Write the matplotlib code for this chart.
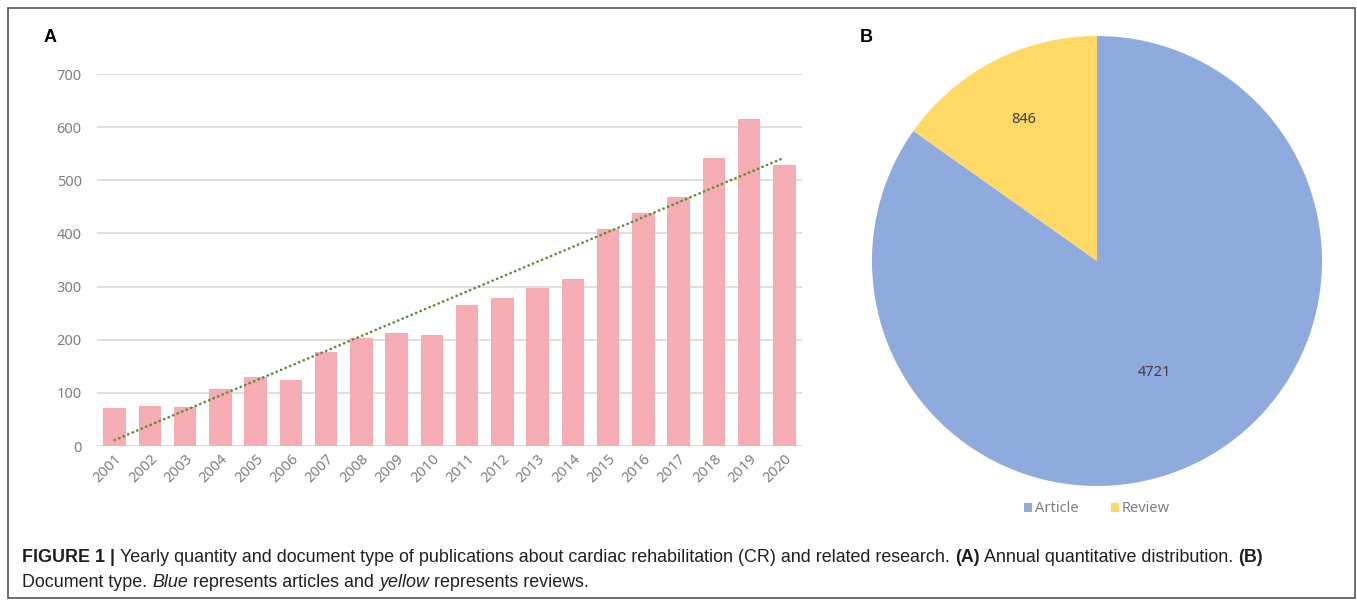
import numpy as np
import matplotlib
matplotlib.use("Agg")
import matplotlib.pyplot as plt
from matplotlib.patches import Rectangle, Patch

# ---------------- data ----------------
years = [str(y) for y in range(2001, 2021)]
counts = [72, 75, 73, 107, 130, 125, 176, 203, 213, 208,
          266, 279, 298, 314, 409, 438, 468, 541, 615, 528]
yticks = [0, 100, 200, 300, 400, 500, 600, 700]

doc_types = ["Article", "Review"]
doc_counts = [4721, 846]

caption_line1 = [("FIGURE 1 |", "bold", "normal"),
                 ("Yearly quantity and document type of publications about cardiac rehabilitation (CR) and related research.", "normal", "normal"),
                 ("(A)", "bold", "normal"),
                 ("Annual quantitative distribution.", "normal", "normal"),
                 ("(B)", "bold", "normal")]
caption_line2 = [("Document type.", "normal", "normal"),
                 ("Blue", "normal", "italic"),
                 ("represents articles and", "normal", "normal"),
                 ("yellow", "normal", "italic"),
                 ("represents reviews.", "normal", "normal")]

W, H = 1357, 600
fig = plt.figure(figsize=(W / 100, H / 100), dpi=100)
fig.patch.set_facecolor("white")

TICK_COL = "#7F7F7F"
tick_font = "Noto Sans"

# ---------------- panel A ----------------
axA = fig.add_axes([97 / W, (H - 446) / H, 705 / W, (446 - 74) / H])
x = np.arange(len(years))
axA.bar(x, counts, width=0.64, color="#F5ACB3", zorder=2)
coef = np.polyfit(x, counts, 1)
axA.plot(x, np.polyval(coef, x), linestyle=(0, (0.1, 1.75)), color="#5B8E3B",
         linewidth=1.9, dash_capstyle="round", zorder=3)
axA.set_xlim(-0.5, len(years) - 0.5)
axA.set_ylim(0, 700)
axA.set_yticks(yticks)
axA.set_yticklabels([str(v) for v in yticks], fontsize=10.5, color=TICK_COL, family=tick_font)
axA.set_xticks(x)
axA.set_xticklabels(years, rotation=45, ha="right", rotation_mode="anchor",
                    fontsize=10.5, color=TICK_COL, family=tick_font)
axA.tick_params(axis="both", length=0)
axA.tick_params(axis="y", pad=11)
axA.tick_params(axis="x", pad=4)
axA.grid(axis="y", color="#D9D9D9", linewidth=1.2, zorder=0)
axA.set_axisbelow(True)
for s in axA.spines.values():
    s.set_visible(False)

# ---------------- panel B ----------------
R = 225
axB = fig.add_axes([(1097 - R) / W, (H - 486) / H, 2 * R / W, 2 * R / H])
colors = ["#8FAADC", "#FFD966"]
wedges, _ = axB.pie(doc_counts, colors=colors, startangle=90, counterclock=False,
                    radius=1.0, wedgeprops=dict(linewidth=0))
axB.set_xlim(-1, 1)
axB.set_ylim(-1, 1)
axB.set_aspect("equal")
axB.axis("off")
total = sum(doc_counts)
start = 90.0
label_r = [0.56, 0.71]
for i, v in enumerate(doc_counts):
    span = 360.0 * v / total
    mid = np.deg2rad(start - span / 2)
    axB.text(label_r[i] * np.cos(mid), label_r[i] * np.sin(mid), str(v),
             ha="center", va="center", fontsize=10.5, color="#404040", family=tick_font)
    start -= span
handles = [Patch(facecolor=c, edgecolor="none") for c in colors]
axB.legend(handles, doc_types, loc="center", bbox_to_anchor=(0.5, -0.051), ncol=2,
           frameon=False, handlelength=0.55, handleheight=0.55, handletextpad=0.2,
           columnspacing=2.2, prop=dict(family=tick_font, size=10.5), labelcolor=TICK_COL)

# ---------------- panel letters ----------------
fig.text(50 / W, 1 - 38 / H, "A", fontsize=13, fontweight="bold", family="Liberation Sans",
         ha="center", va="center")
fig.text(866 / W, 1 - 38 / H, "B", fontsize=13, fontweight="bold", family="Liberation Sans",
         ha="center", va="center")

# ---------------- frame ----------------
fig.add_artist(Rectangle((7.5 / W, 1 - 598 / H), (1355 - 7.5) / W, (598 - 8) / H,
                         transform=fig.transFigure, fill=False, edgecolor="#555555",
                         linewidth=1.2))

# ---------------- caption ----------------
renderer = fig.canvas.get_renderer()
cap_family = ["Liberation Sans Narrow", "Liberation Sans"]


def text_width(s, size, weight="normal", style="normal"):
    t = fig.text(0, 0, s, fontsize=size, fontweight=weight, fontstyle=style, family=cap_family)
    w = t.get_window_extent(renderer).width
    t.remove()
    return w


def line_width(pieces, size):
    sp = text_width("x x", size) - text_width("xx", size)
    return sum(text_width(p, size, w, s) for p, w, s in pieces) + sp * (len(pieces) - 1)


target = 1268 - 22
size = 11.0
for _ in range(3):
    size *= target / line_width(caption_line1, size)


def draw_line(pieces, x0, ybase, size):
    sp = text_width("x x", size) - text_width("xx", size)
    xp = x0
    for p, w, s in pieces:
        t = fig.text(xp / W, 1 - ybase / H, p, fontsize=size, fontweight=w, fontstyle=s,
                     family=cap_family, va="baseline", ha="left", color="#231F20")
        xp += t.get_window_extent(renderer).width + sp


draw_line(caption_line1, 22, 562, size)
draw_line(caption_line2, 22, 587, size)

fig.savefig("out.png", dpi=100, facecolor="white")
